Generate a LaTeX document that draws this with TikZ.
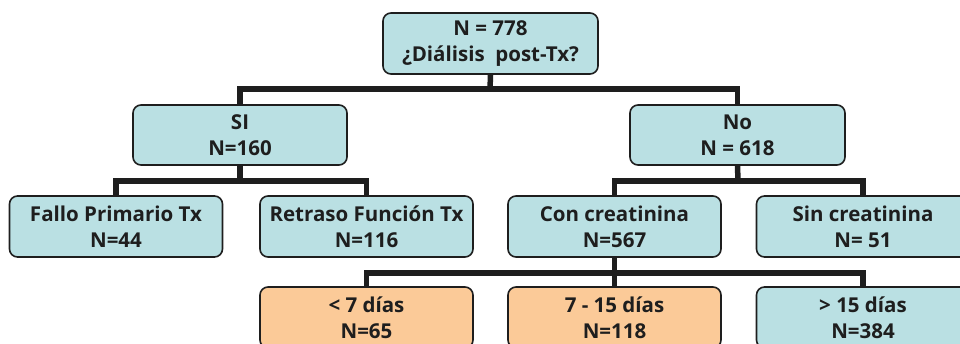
\documentclass[tikz,border=0pt]{standalone}
\usepackage{fontspec}
\setmainfont{Open Sans}
\definecolor{boxblue}{HTML}{BAE0E3}
\definecolor{boxorange}{HTML}{FBCA98}
\definecolor{ink}{HTML}{1E1E1E}
\begin{document}
\begin{tikzpicture}[x=1pt,y=-1pt,
  box/.style={draw=ink, line width=1.6pt, rounded corners=8pt, fill=boxblue,
    minimum width=213pt, minimum height=61pt, align=center, text=ink,
    inner sep=0pt,
    font=\fontsize{20.5}{26}\selectfont\bfseries},
  obox/.style={box, fill=boxorange},
  conn/.style={draw=ink, line width=5.5pt}]
\useasboundingbox (0,0) rectangle (960,343);
\coordinate (b1) at (490,89);
\coordinate (b2) at (240,181);
\coordinate (b3) at (738,181);
\coordinate (b4) at (614.5,273);
\node[box, minimum width=215pt] (top) at (490.5,43.5) {N = 778\\¿Diálisis\ \ post-Tx?};
\node[box, minimum width=214pt, minimum height=60pt] (si) at (240,135) {SI\\N=160};
\node[box, minimum width=215pt, minimum height=60pt] (no) at (737.5,135) {No\\N = 618};
\node[box] (fallo) at (116,226.5) {Fallo Primario Tx\\N=44};
\node[box] (retraso) at (366.5,226.5) {Retraso Función Tx\\N=116};
\node[box] (con) at (614.5,226.5) {Con creatinina\\N=567};
\node[box] (sin) at (863,226.5) {Sin creatinina\\N= 51};
\node[obox] (lt7) at (366.5,317.5) {< 7 días\\N=65};
\node[obox] (d715) at (614.5,317.5) {7 - 15 días\\N=118};
\node[box] (gt15) at (863,317.5) {> 15 días\\N=384};
\draw[conn] (top.south) -- (b1);
\draw[conn] (si.north) |- (b1) -| (no.north);
\draw[conn] (si.south) -- (b2);
\draw[conn] (fallo.north) |- (b2) -| (retraso.north);
\draw[conn] (no.south) -- (b3);
\draw[conn] (con.north) |- (b3) -| (sin.north);
\draw[conn] (con.south) -- (b4);
\draw[conn] (lt7.north) |- (b4) -| (gt15.north);
\draw[conn] (b4) -- (d715.north);
\end{tikzpicture}
\end{document}
